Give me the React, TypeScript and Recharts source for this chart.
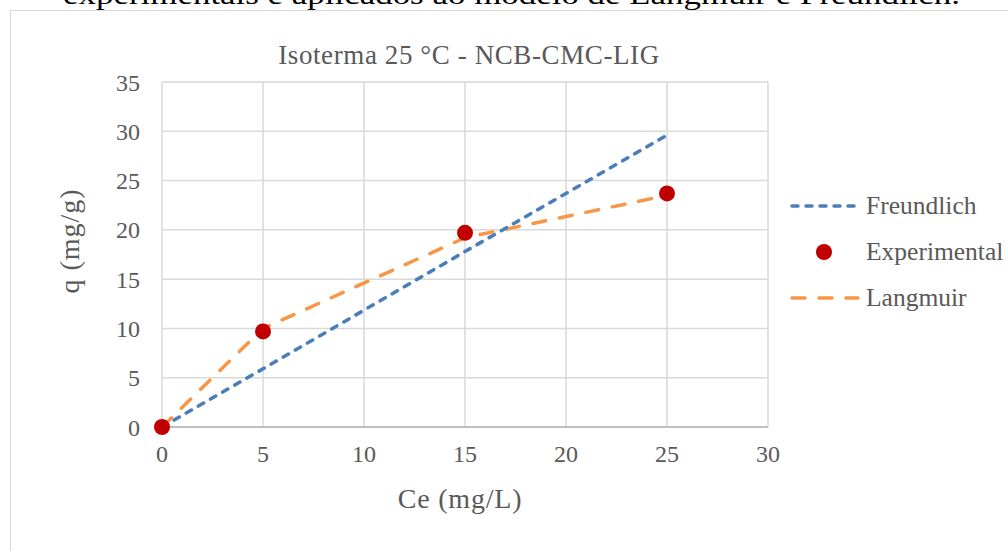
import { CartesianGrid, ComposedChart, Line, XAxis, YAxis } from "recharts"

const ce = [0, 5, 15, 25]
const freundlich = [0, 5.9, 17.8, 29.6]
const experimental = [0, 9.7, 19.7, 23.7]
const langmuir = [0, 10.0, 19.2, 23.5]

const xTicks = [0, 5, 10, 15, 20, 25, 30]
const yTicks = [0, 5, 10, 15, 20, 25, 30, 35]

const chartTitle = "Isoterma 25 °C - NCB-CMC-LIG"
const xTitle = "Ce (mg/L)"
const yTitle = "q (mg/g)"
const caption = "experimentais e aplicados ao modelo de Langmuir e Freundlich."

const legendOrder = ["Freundlich", "Experimental", "Langmuir"]

const data = ce.map((c, i) => ({
  ce: c,
  Freundlich: freundlich[i],
  Experimental: experimental[i],
  Langmuir: langmuir[i],
}))

const FONT = "'Liberation Serif', serif"
const TEXT = "#595959"
const BLUE = "#4a7ebb"
const ORANGE = "#f79646"
const RED = "#c00000"

// legend drawn beside the chart so it doesn't eat into the plot area
const ChartLegend = () => {
  return (
    <svg width={225} height={140} style={{ position: "absolute", left: 783, top: 188 }}>
      {legendOrder.map((name, i) => {
        const cy = 18 + i * 46
        return (
          <g key={name}>
            {name === "Freundlich" && (
              <line x1={9} x2={75} y1={cy} y2={cy} stroke={BLUE} strokeWidth={3.5}
                strokeDasharray="6 8" strokeLinecap="round" />
            )}
            {name === "Experimental" && <circle cx={41} cy={cy} r={8} fill={RED} />}
            {name === "Langmuir" && (
              <line x1={9} x2={75} y1={cy} y2={cy} stroke={ORANGE} strokeWidth={3.5}
                strokeDasharray="13 14" strokeLinecap="round" />
            )}
            <text x={83} y={cy + 8} fontSize={25.5} fill={TEXT} fontFamily={FONT}>{name}</text>
          </g>
        )
      })}
    </svg>
  )
}

export default function App() {
  return (
    <div style={{ position: "fixed", left: 0, top: 0, width: 1008, height: 551, overflow: "hidden", background: "#fff", fontFamily: FONT }}>
      <svg width={1008} height={20} style={{ position: "absolute", left: 0, top: 0 }}>
        <text x={63} y={4} fontSize={28} fontFamily={FONT} fill="#000" textLength={897} lengthAdjust="spacingAndGlyphs">{caption}</text>
      </svg>
      <div style={{ position: "absolute", left: 10, top: 10, width: 1010, height: 560, border: "1px solid #d9d9d9" }} />
      <div style={{ position: "absolute", left: 0, top: 0 }}>
        <ComposedChart
          width={1008}
          height={551}
          data={data}
          margin={{ top: 82, right: 240, left: 62, bottom: 64 }}
        >
          <CartesianGrid stroke="#d9d9d9" strokeWidth={1.5} />
          <XAxis
            dataKey="ce"
            type="number"
            domain={[0, 30]}
            ticks={xTicks}
            height={60}
            tickLine={false}
            tickSize={0}
            tickMargin={18}
            axisLine={{ stroke: "#bfbfbf", strokeWidth: 2 }}
            tick={{ fill: TEXT, fontSize: 24, fontFamily: FONT }}
          />
          <YAxis
            type="number"
            domain={[0, 35]}
            ticks={yTicks}
            width={100}
            tickLine={false}
            tickSize={0}
            tickMargin={22}
            axisLine={false}
            tick={{ fill: TEXT, fontSize: 24, fontFamily: FONT }}
          />
          <Line dataKey="Langmuir" type="linear" stroke={ORANGE} strokeWidth={3.5}
            strokeDasharray="13 14" strokeLinecap="round" dot={false} isAnimationActive={false} />
          <Line dataKey="Freundlich" type="linear" stroke={BLUE} strokeWidth={3.5}
            strokeDasharray="6 8" strokeLinecap="round" dot={false} isAnimationActive={false} />
          <Line dataKey="Experimental" type="linear" stroke="none"
            dot={{ r: 8, fill: RED, stroke: RED, strokeWidth: 0 }} activeDot={false} isAnimationActive={false} />
        </ComposedChart>
      </div>
      <ChartLegend />
      <div style={{ position: "absolute", left: 0, top: 40, width: 938, textAlign: "center", fontSize: 27, color: TEXT, lineHeight: "30px", letterSpacing: 0.6 }}>
        {chartTitle}
      </div>
      <div style={{ position: "absolute", left: 0, top: 484, width: 920, textAlign: "center", fontSize: 28, color: TEXT, lineHeight: "30px", letterSpacing: 0.8 }}>
        {xTitle}
      </div>
      <div style={{ position: "absolute", left: 70, top: 241, width: 0, height: 0 }}>
        <div style={{ position: "absolute", left: -100, top: -15, width: 200, textAlign: "center", fontSize: 28, color: TEXT, lineHeight: "30px", letterSpacing: 1, transform: "rotate(-90deg)" }}>
          {yTitle}
        </div>
      </div>
    </div>
  )
}
